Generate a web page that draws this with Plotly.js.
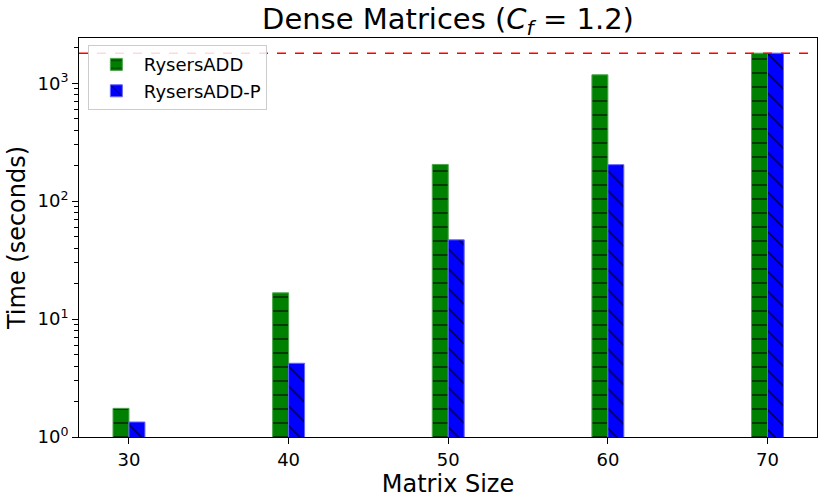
<!DOCTYPE html>
<html>
<head>
<meta charset="utf-8">
<script src="https://cdn.plot.ly/plotly-3.0.1.min.js"></script>
<style>
  body { margin: 0; background: #fff; }
  #chart { width: 830px; height: 502px; }
</style>
</head>
<body>
<div id="chart"></div>
<script>
// matrix sizes and run times (seconds)
const matrixSizes = [30, 40, 50, 60, 70];
const rysersAdd = [1.75, 16.7, 205, 1180, 1800];
const rysersAddP = [1.34, 4.22, 47, 204, 1800];
const timeLimit = 1800;

const yTickVals = [1, 10, 100, 1000];
const yTickText = ['10<sup>0</sup>', '10<sup>1</sup>', '10<sup>2</sup>', '10<sup>3</sup>'];

// minor log ticks 2..9 inside each decade
const yMinorVals = [];
yTickVals.forEach(v => {
    for (let k = 2; k <= 9; k++) yMinorVals.push(v * k);
});

const font = 'DejaVu Sans, sans-serif';
const yRange = [0, 3.384];

const data = [
    {
        type: 'bar',
        name: 'RysersADD',
        x: matrixSizes,
        y: rysersAdd,
        marker: {
            color: '#008000',
            line: { color: '#4da64d', width: 1 },
            pattern: { shape: '-', fgcolor: '#0a2a0a', bgcolor: '#008000', size: 14, solidity: 0.12 }
        },
        hoverinfo: 'x+y+name'
    },
    {
        type: 'bar',
        name: 'RysersADD-P',
        x: matrixSizes,
        y: rysersAddP,
        marker: {
            color: '#0000ff',
            line: { color: '#6666ff', width: 1 },
            pattern: { shape: '\\', fgcolor: '#000033', bgcolor: '#0000ff', size: 14, solidity: 0.1 }
        },
        hoverinfo: 'x+y+name'
    },
    // invisible trace so the minor-tick axis gets drawn
    {
        type: 'scatter',
        mode: 'markers',
        x: [matrixSizes[0]],
        y: [rysersAdd[0]],
        yaxis: 'y2',
        marker: { opacity: 0 },
        showlegend: false,
        hoverinfo: 'skip'
    }
];

const layout = {
    width: 830,
    height: 502,
    margin: { l: 79, r: 12.5, t: 38, b: 65 },
    paper_bgcolor: '#fff',
    plot_bgcolor: '#fff',
    font: { family: font, color: '#000', size: 18 },
    barmode: 'group',
    bargap: 0.8,
    bargroupgap: 0,
    title: {
        text: 'Dense Matrices (<i>C</i><sub><i>f</i></sub> = 1.2)',
        font: { family: font, size: 29, color: '#000' },
        xref: 'paper', x: 0.5, xanchor: 'center',
        yref: 'container', y: 0.962, yanchor: 'middle'
    },
    xaxis: {
        range: [26.87, 73.1],
        tickvals: matrixSizes,
        ticks: 'outside', ticklen: 6, tickwidth: 1, tickcolor: '#000',
        showline: true, mirror: true, linecolor: '#000', linewidth: 1,
        showgrid: false, zeroline: false,
        tickfont: { size: 18 },
        title: { text: 'Matrix Size', font: { size: 24 }, standoff: 4 }
    },
    yaxis: {
        type: 'log',
        range: yRange,
        tickmode: 'array',
        tickvals: yTickVals,
        ticktext: yTickText,
        ticks: 'outside', ticklen: 6, tickwidth: 1, tickcolor: '#000',
        showline: true, mirror: true, linecolor: '#000', linewidth: 1,
        showgrid: false, zeroline: false,
        tickfont: { size: 18 },
        title: { text: 'Time (seconds)', font: { size: 24 }, standoff: 5 }
    },
    // overlay axis that only carries the minor log ticks
    yaxis2: {
        type: 'log',
        range: yRange,
        overlaying: 'y',
        anchor: 'x',
        side: 'left',
        tickmode: 'array',
        tickvals: yMinorVals,
        showticklabels: false,
        ticks: 'outside', ticklen: 4, tickwidth: 1, tickcolor: '#000',
        showline: false, showgrid: false, zeroline: false
    },
    shapes: [
        {
            type: 'line',
            xref: 'paper', x0: 0, x1: 1,
            yref: 'y', y0: timeLimit, y1: timeLimit,
            line: { color: '#ff0000', width: 1.5, dash: 'dash' },
            layer: 'above'
        }
    ],
    showlegend: true,
    legend: {
        x: 0.012, y: 0.982, xanchor: 'left', yanchor: 'top',
        bgcolor: 'rgba(255,255,255,0.85)',
        bordercolor: '#cccccc', borderwidth: 1,
        font: { size: 18 },
        itemwidth: 45,
        traceorder: 'normal'
    }
};

Plotly.newPlot('chart', data, layout, { displayModeBar: false, staticPlot: true });
</script>
</body>
</html>
